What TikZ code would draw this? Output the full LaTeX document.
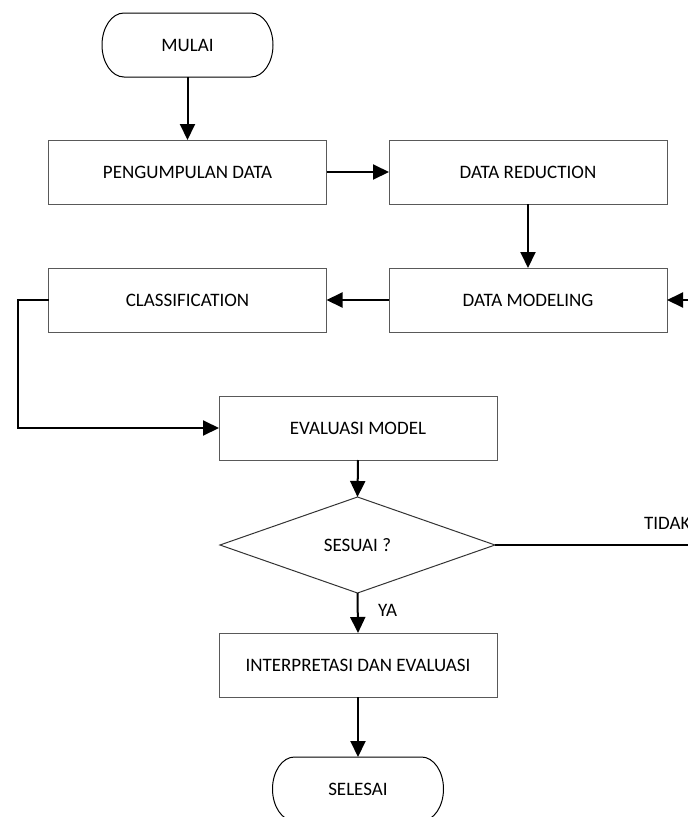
\documentclass[tikz,border=0pt]{standalone}
\usepackage{fontspec}
\setmainfont{Carlito}
\usetikzlibrary{arrows.meta,shapes.geometric}

\tikzset{
  txt/.style={font=\fontsize{19}{23}\selectfont},
  box/.style={rectangle, draw=black!65, line width=1pt, minimum width=278pt,
    minimum height=64pt, inner sep=0pt, outer sep=0pt, txt},
  decision/.style={diamond, draw=black!80, line width=1pt, minimum width=275pt,
    minimum height=96pt, inner sep=0pt, outer sep=0pt, txt},
  terminal/.style={rectangle, minimum width=171pt, minimum height=64pt, inner sep=0pt,
    outer sep=0pt, txt},
  flow/.style={line width=2pt, -{Triangle[length=16pt, width=15pt]}},
  lbl/.style={inner sep=0pt, anchor=west, txt},
}

% outline of a start/stop terminal: straight sides with elliptic ends
\newcommand{\terminaloutline}[1]{%
  \draw[line width=1pt]
    ([xshift=22pt]#1.north west) -- ([xshift=-22pt]#1.north east)
    arc[start angle=90, end angle=-90, x radius=22pt, y radius=32pt]
    -- ([xshift=22pt]#1.south west)
    arc[start angle=270, end angle=90, x radius=22pt, y radius=32pt] -- cycle;}

\begin{document}
\begin{tikzpicture}[x=1pt, y=-1pt]
  \useasboundingbox (0,0) rectangle (688,817);
  \clip (0,0) rectangle (688,817);

  % nodes
  \node[terminal] (mulai) at (187.5,45) {MULAI};
  \terminaloutline{mulai}
  \node[box] (kumpul) at (187.5,172) {PENGUMPULAN DATA};
  \node[box] (reduksi) at (528,172) {DATA REDUCTION};
  \node[box] (model) at (528,300) {DATA MODELING};
  \node[box] (klasif) at (187.5,300) {CLASSIFICATION};
  \node[box] (evaluasi) at (358,428) {EVALUASI MODEL};
  \node[decision] (sesuai) at (357.5,545) {SESUAI ?};
  \node[box] (interp) at (358,665) {INTERPRETASI DAN EVALUASI};
  \node[terminal] (selesai) at (358,789) {SELESAI};
  \terminaloutline{selesai}

  \coordinate (kanan) at (712,545);

  % connectors
  \draw[flow] (mulai.south) -- (kumpul.north);
  \draw[flow] (kumpul.east) -- (reduksi.west);
  \draw[flow] (reduksi.south) -- (model.north);
  \draw[flow] (model.west) -- (klasif.east);
  \draw[flow] (klasif.west) -- ++(-31,0) |- (evaluasi.west);
  \draw[flow] (evaluasi.south) -- (sesuai.north);
  \draw[flow] (sesuai.south) -- (interp.north);
  \draw[flow] (interp.south) -- (selesai.north);
  \draw[flow] (sesuai.east) -- (kanan) |- (model.east);

  % branch labels
  \node[lbl] (ya) at (378,610) {YA};
  \node[lbl] (tidak) at (644,523) {TIDAK};
\end{tikzpicture}
\end{document}
